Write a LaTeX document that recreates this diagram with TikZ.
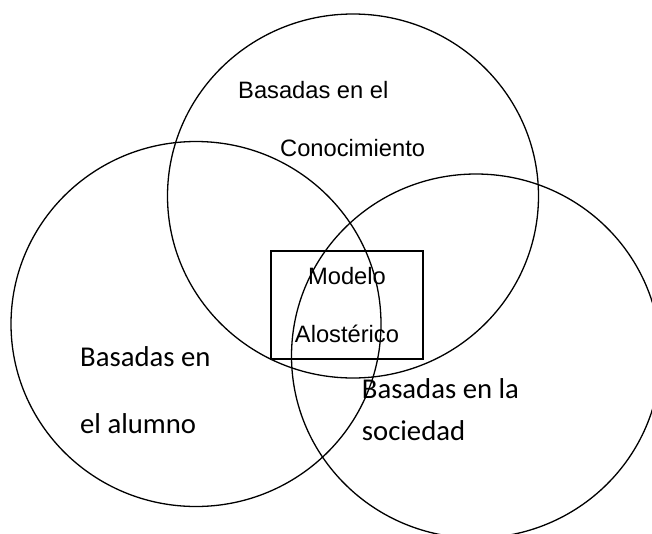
\documentclass[tikz,border=0pt]{standalone}
\usepackage{fontspec}
\setmainfont{Liberation Sans}
\newfontfamily\carlito{Carlito}
\usetikzlibrary{shapes.geometric}

\tikzset{
  arialtxt/.style={font=\fontsize{23.7}{58.4}\selectfont},
  calibritxt/.style={font=\carlito\fontsize{28.7}{34}\selectfont}
}

\begin{document}
\begin{tikzpicture}[x=1pt,y=-1pt]
      \clip (0,0) rectangle (652,533);

      \begin{scope}[every node/.style={ellipse,draw,line width=1.3pt,inner sep=0pt}]
        \node[minimum width=371,minimum height=364] (conoc) at (353,196) {};
        \node[minimum width=370,minimum height=365] (alumno) at (196,324) {};
        \node[minimum width=369,minimum height=364] (sociedad) at (476,356) {};
      \end{scope}

      \node[draw,line width=1.3pt,minimum width=152,minimum height=108,
            align=center,arialtxt] (modelo) at (347,305) {Modelo\\Alostérico};

      \begin{scope}[every node/.style={anchor=base west,inner sep=0pt}]
        \node[arialtxt] (conoc1) at (238,98.3) {Basadas en el};
        \node[arialtxt] (conoc2) at (280,156) {Conocimiento};
        \node[calibritxt] (alumno1) at (80,366.7) {Basadas en};
        \node[calibritxt] (alumno2) at (80,433) {el alumno};
        \node[calibritxt] (sociedad1) at (361.7,398.3) {Basadas en la};
        \node[calibritxt] (sociedad2) at (361.7,440) {sociedad};
      \end{scope}
    \end{tikzpicture}
\end{document}
